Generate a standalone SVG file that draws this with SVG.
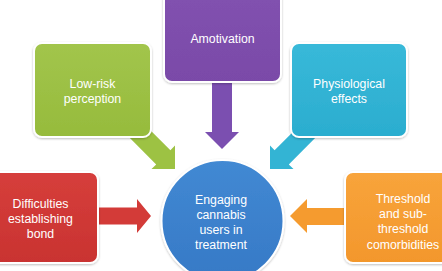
<svg xmlns="http://www.w3.org/2000/svg" width="442" height="271" viewBox="0 0 442 271">
<defs>
<filter id="sh" x="-10%" y="-10%" width="120%" height="125%">
<feDropShadow dx="0" dy="1" stdDeviation="1.2" flood-color="#000" flood-opacity="0.25"/>
</filter>
<linearGradient id="gG" x1="0" y1="0" x2="0" y2="1"><stop offset="0" stop-color="#a2c54c"/><stop offset="1" stop-color="#96bb3c"/></linearGradient>
<linearGradient id="gP" x1="0" y1="0" x2="0" y2="1"><stop offset="0" stop-color="#8252b0"/><stop offset="1" stop-color="#7a4aa8"/></linearGradient>
<linearGradient id="gC" x1="0" y1="0" x2="0" y2="1"><stop offset="0" stop-color="#38b9d9"/><stop offset="1" stop-color="#2badcf"/></linearGradient>
<linearGradient id="gR" x1="0" y1="0" x2="0" y2="1"><stop offset="0" stop-color="#d63e3b"/><stop offset="1" stop-color="#c93331"/></linearGradient>
<linearGradient id="gO" x1="0" y1="0" x2="0" y2="1"><stop offset="0" stop-color="#f8a43b"/><stop offset="1" stop-color="#f3972c"/></linearGradient>
<linearGradient id="gB" x1="0" y1="0" x2="0" y2="1"><stop offset="0" stop-color="#4289d3"/><stop offset="1" stop-color="#3679c6"/></linearGradient>
</defs>
<style>
.box{stroke:#fff;stroke-width:2;filter:url(#sh)}
.t{font-family:"Liberation Sans",Arial,sans-serif;font-size:12.3px;fill:#fff;text-anchor:middle}
</style>
<g id="connectors">
<polygon fill="#7b4fb0" points="212,80 232,80 232,132 239,132 222,149 205,132 212,132"/>
<polygon fill="#9dc243" points="175,169 151.5,169 156.2,164.4 128.9,137.1 143.1,122.9 170.4,150.2 175,145.5"/>
<polygon fill="#33b4d4" points="270,169 293.5,169 288.8,164.4 316.1,137.1 301.9,122.9 274.6,150.2 270,145.5"/>
<polygon fill="#d33b38" points="96,207.5 137,207.5 137,199 151,216 137,233 137,224.5 96,224.5"/>
<polygon fill="#f59b2f" points="348,208 307,208 307,199 290,216 307,233 307,225 348,225"/>
</g>
<g id="center">
<circle class="box" cx="222.5" cy="221" r="61" fill="url(#gB)"/>
<text class="t" x="221" y="204">Engaging</text>
<text class="t" x="221" y="219">cannabis</text>
<text class="t" x="221" y="234">users in</text>
<text class="t" x="221" y="249">treatment</text>
</g>
<g id="amotivation">
<rect class="box" x="164" y="-12" width="117" height="94" rx="8" fill="url(#gP)"/>
<text class="t" x="222.5" y="43">Amotivation</text>
</g>
<g id="lowrisk">
<rect class="box" x="34" y="43" width="117" height="94" rx="8" fill="url(#gG)"/>
<text class="t" x="92.5" y="88">Low-risk</text>
<text class="t" x="92.5" y="103">perception</text>
</g>
<g id="physiological">
<rect class="box" x="291" y="43" width="116" height="94" rx="8" fill="url(#gC)"/>
<text class="t" x="349" y="88">Physiological</text>
<text class="t" x="349" y="103">effects</text>
</g>
<g id="difficulties">
<rect class="box" x="-19" y="172" width="117" height="91" rx="8" fill="url(#gR)"/>
<text class="t" x="40.5" y="207.5">Difficulties</text>
<text class="t" x="40.5" y="222.5">establishing</text>
<text class="t" x="40.5" y="237.5">bond</text>
</g>
<g id="threshold">
<rect class="box" x="345" y="172" width="117" height="91" rx="8" fill="url(#gO)"/>
<text class="t" x="403" y="202.5">Threshold</text>
<text class="t" x="403" y="217.5">and sub-</text>
<text class="t" x="403" y="233">threshold</text>
<text class="t" x="403" y="248.5">comorbidities</text>
</g>
</svg>
